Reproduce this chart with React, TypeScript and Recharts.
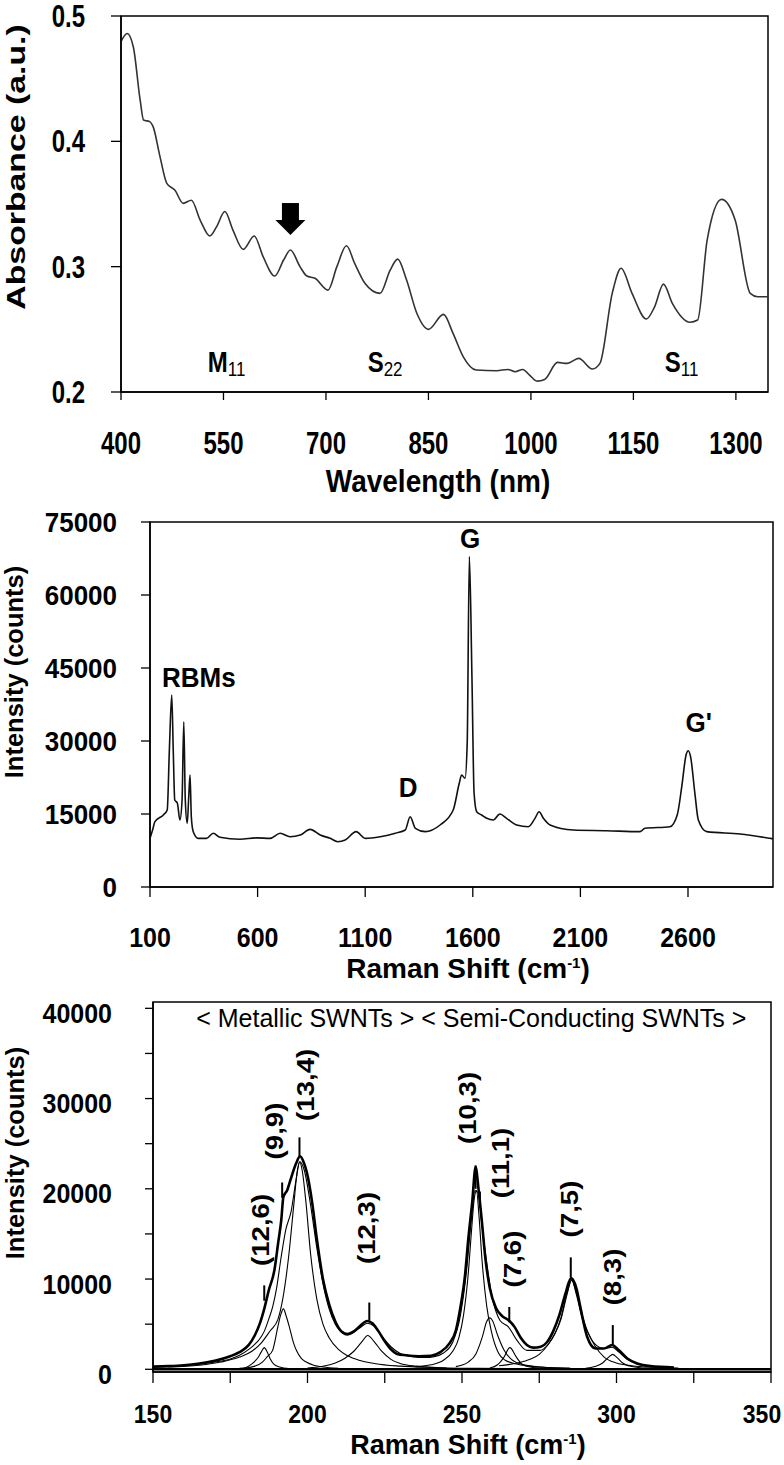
import React from "react";
import {
  LineChart, Line, XAxis, YAxis, ReferenceArea, ReferenceDot, ReferenceLine,
} from "recharts";

type Pt = [number, number];

// ---- panel 1: absorbance spectrum (wavelength nm, a.u.)
const uvSpectrum: Pt[] = [
  [400, 0.4795], [409, 0.486], [418, 0.4755], [428, 0.433], [433, 0.417], [442, 0.4157],
  [447, 0.4117], [457, 0.388], [467, 0.3665], [479, 0.361], [491, 0.3505], [503, 0.353],
  [516, 0.337], [530, 0.3245], [540, 0.332], [552, 0.344], [564, 0.329], [579, 0.3138],
  [595, 0.3245], [608, 0.308], [625, 0.2925], [638, 0.3053], [648, 0.3133], [662, 0.3],
  [672, 0.2925], [684, 0.2907], [703, 0.2813], [716, 0.3], [730, 0.3167], [742, 0.3026],
  [757, 0.2867], [779, 0.2787], [794, 0.2973], [805, 0.306], [818, 0.2893], [833, 0.2628],
  [850, 0.25], [872, 0.2619], [886, 0.2468], [901, 0.2281], [920, 0.2175], [950, 0.217],
  [966, 0.218], [977, 0.2162], [988, 0.218], [998, 0.2135], [1009, 0.2087], [1020, 0.21],
  [1039, 0.2236], [1053, 0.2228], [1070, 0.2268], [1090, 0.2183], [1101, 0.2228],
  [1119, 0.2787], [1132, 0.2987], [1148, 0.2787], [1169, 0.2582], [1181, 0.268],
  [1194, 0.2861], [1207, 0.2707], [1233, 0.2556], [1244, 0.2574], [1258, 0.3213],
  [1279, 0.3537], [1299, 0.337], [1321, 0.2787], [1332, 0.276], [1347, 0.276],
];
const uvTicksX = [400, 550, 700, 850, 1000, 1150, 1300];
const uvTicksY = [0.2, 0.3, 0.4, 0.5];
const uvBands = [
  { main: "M", sub: "11", x: 527 },
  { main: "S", sub: "22", x: 761 },
  { main: "S", sub: "11", x: 1196 },
];
const uvArrow = { x: 648, y: 0.338 };

// ---- panel 2: full Raman spectrum
const ramanSpectrum: Pt[] = [
  [100, 10000], [112, 11710], [123, 13420], [162, 14800], [180, 15820], [190, 28150],
  [201, 39460], [208, 28150], [215, 17880], [227, 17260], [239, 13770], [249, 17880],
  [257, 33970], [264, 17880], [273, 13090], [280, 18560], [286, 23020], [292, 14450],
  [301, 11370], [324, 10000], [363, 10000], [394, 11040], [425, 10210], [518, 9800],
  [596, 10100], [658, 10000], [705, 11040], [751, 10340], [798, 10680], [844, 11850],
  [891, 10680], [937, 10000], [972, 9310], [1007, 9650], [1058, 11370], [1100, 10000],
  [1170, 10340], [1240, 11040], [1286, 11710], [1309, 14450], [1333, 12060], [1379, 11370],
  [1448, 12740], [1509, 15820], [1537, 21310], [1548, 23020], [1564, 22340], [1574, 29530],
  [1584, 67880], [1596, 43220], [1606, 19250], [1618, 15470], [1641, 14800], [1665, 14110],
  [1695, 13770], [1726, 15000], [1757, 14110], [1804, 12740], [1858, 12390], [1889, 14110],
  [1908, 15470], [1928, 14110], [1959, 12740], [2067, 11710], [2222, 11570], [2377, 11370],
  [2400, 12060], [2516, 12390], [2550, 14800], [2571, 20610], [2591, 27130], [2601, 28010],
  [2612, 26780], [2632, 19250], [2648, 13770], [2687, 11370], [2842, 10890], [2981, 10000],
  [2995, 9900],
];
const ramanTicksX = [100, 600, 1100, 1600, 2100, 2600];
const ramanTicksY = [0, 15000, 30000, 45000, 60000, 75000];
const ramanBands = [
  { text: "RBMs", x: 156, y: 41100, anchor: "start" },
  { text: "D", x: 1299, y: 18500, anchor: "middle" },
  { text: "G", x: 1587, y: 69660, anchor: "middle" },
  { text: "G'", x: 2588, y: 31850, anchor: "start" },
];

// ---- panel 3: RBM region with Lorentzian components
const rbmMeasured: Pt[] = [
  [150, 300], [155, 350], [160, 450], [165, 650], [170, 950], [175, 1450], [178, 1900],
  [181, 2700], [183, 3800], [184.5, 5000], [186, 6700], [187.5, 8800], [189.3, 11000],
  [190.5, 14000], [191.5, 16500], [192.2, 19100], [193.5, 19900], [194.5, 21000],
  [196.3, 22800], [197.6, 23600], [198.7, 23000], [199.8, 21800], [201.5, 18500],
  [203, 14500], [205, 10000], [207, 7200], [209, 5300], [211, 4200], [213, 3900],
  [215, 4200], [217, 4800], [219.3, 5350], [221, 5100], [223, 4200], [225, 3100],
  [227, 2200], [229, 1700], [232, 1550], [236, 1450], [240, 1500], [243, 1900],
  [246, 2900], [248, 4300], [249.5, 6900], [251, 10500], [252, 14300], [253.3, 18500],
  [254.4, 22400], [255.4, 19800], [256.4, 16500], [257.5, 12500], [259, 9000],
  [261, 6800], [263, 5900], [265.2, 5400], [267, 4700], [269, 3500], [271, 2700],
  [273, 2400], [275.5, 2500], [277.5, 3000], [279.5, 4200], [281.5, 6000], [283.5, 8400],
  [285.3, 10100], [287, 9000], [288.3, 6900], [290.5, 3600], [293.2, 2300], [295.9, 2300],
  [298.6, 2700], [300.8, 2100], [303.5, 1200], [306.7, 650], [311, 350], [318.6, 200],
];
const rbmFitSum: Pt[] = [
  [150, 250], [160, 400], [170, 800], [175, 1150], [178, 1550], [181, 2200], [183, 2800],
  [184.4, 3300], [186, 4200], [187.7, 5800], [188.7, 6900], [190, 9000], [191.5, 12500],
  [193, 15500], [194.7, 17500], [196.3, 21000], [197.5, 23000], [199, 22000], [201, 18200],
  [203, 13500], [205, 9500], [207, 6700], [209, 5000], [210.7, 4200], [212.5, 3800],
  [214.5, 4000], [217, 4600], [219.3, 5100], [221.5, 4800], [224, 3700], [227, 2500],
  [230, 1750], [234, 1400], [238, 1300], [241, 1400], [244, 1800], [247, 3000],
  [249.5, 6000], [251.5, 11000], [253, 16500], [254.2, 19800], [255.3, 19500],
  [256.4, 16100], [258, 11800], [259.7, 8000], [261, 6400], [262.3, 5400], [265, 4700],
  [267.8, 3200], [271, 2100], [275.3, 2100], [278, 2800], [280, 3900], [282, 5700],
  [284, 8500], [285.5, 9900], [287, 8500], [289, 5900], [291, 3900], [293.7, 2600],
  [296, 2300], [298.6, 2450], [300.8, 1900], [303.5, 1100], [306.7, 600], [311, 330],
  [318.6, 200],
];
const comp126: Pt[] = [
  [178, 100], [180, 200], [182, 600], [184, 1300], [185, 1900], [186, 2400], [187, 1900],
  [188, 1100], [189, 600], [191, 250], [194, 80],
];
const comp99: Pt[] = [
  [180, 150], [183, 350], [185.4, 800], [187, 1400], [188.7, 2100], [190.4, 4700],
  [191.3, 6000], [192.2, 6700], [193.1, 5900], [194.2, 4600], [195.5, 2900], [196.4, 2100],
  [198, 1200], [199.6, 800], [202, 450], [205, 250], [210, 120],
];
const comp134: Pt[] = [
  [155, 250], [165, 450], [172, 800], [178, 1350], [182, 2000], [185, 2900], [188, 4300],
  [190.4, 5500], [192, 7800], [194, 12800], [195.5, 18000], [196.7, 22000], [197.5, 23000],
  [198.3, 22000], [199.5, 18500], [201, 12800], [203, 7800], [205, 5000], [207, 3500],
  [210, 2200], [213, 1500], [217, 980], [222, 620], [230, 350], [240, 200], [255, 100],
  [270, 60],
];
const comp123: Pt[] = [
  [200, 150], [205, 330], [209, 700], [212, 1200], [215, 2000], [217.5, 3000],
  [219.5, 3750], [221.5, 3100], [224, 2000], [227, 1100], [230, 650], [235, 350], [245, 150],
];
const comp103: Pt[] = [
  [235, 300], [240, 500], [244, 1000], [247, 2000], [249, 3500], [250.5, 6000],
  [252, 10500], [253, 15000], [254, 19000], [254.7, 19800], [255.5, 17000], [256.5, 12000],
  [258, 7000], [259.5, 4200], [261.8, 1800], [264, 1000], [268, 550], [275, 250], [285, 100],
];
const comp111: Pt[] = [
  [248, 300], [252, 800], [254.5, 1700], [256.5, 3500], [258, 5300], [259, 5700],
  [260, 5300], [261.5, 3800], [263.5, 2200], [266, 1100], [270, 500], [276, 250], [285, 100],
];
const comp76: Pt[] = [
  [259, 150], [261.5, 500], [263.5, 1300], [265.5, 2400], [267.5, 1400], [269.5, 550],
  [272, 250], [277, 100],
];
const comp75: Pt[] = [
  [262, 400], [268, 700], [272, 1100], [275, 1650], [278, 2800], [280, 3900], [282, 5500],
  [284, 8300], [285.5, 9900], [287, 8300], [289, 5500], [291, 3900], [293, 2600],
  [296, 1350], [300, 700], [305, 400], [312, 220], [320, 140],
];
const comp83: Pt[] = [
  [290, 100], [293, 300], [295.5, 700], [297.5, 1350], [298.8, 1650], [300, 1350],
  [302, 700], [305, 300], [310, 100],
];
const rbmComponents = [comp126, comp99, comp134, comp123, comp103, comp111, comp76, comp75, comp83];
const chiralLabels = ["(12,6)", "(9,9)", "(13,4)", "(12,3)", "(10,3)", "(11,1)", "(7,6)", "(7,5)", "(8,3)"];
const chiralLabelPos: Pt[] = [
  [184.7, 15440], [189.2, 26400], [199.3, 31520], [219, 15660], [251.8, 28960],
  [262.5, 22860], [266.4, 12220], [284.8, 17760], [298.8, 10230],
];
// marker ticks: [shift, from, to]
const chiralMarkers: [number, number, number][] = [
  [186, 7600, 9300], [191.8, 19000, 20700], [197.4, 23600, 25700], [220, 5400, 7400],
  [254.4, 20000, 22600], [255.8, 17900, 19700], [265.3, 5200, 6900], [285.2, 10200, 12400],
  [298.8, 2800, 4900],
];
const rbmTicksX = [150, 175, 200, 225, 250, 275, 300, 325, 350];
const rbmTicksY = [0, 2500, 5000, 7500, 10000, 12500, 15000, 17500, 20000, 22500, 25000,
  27500, 30000, 32500, 35000, 37500, 40000];

const FONT = "'Liberation Sans', Arial, Helvetica, sans-serif";
const toRows = (pts: Pt[]) => pts.map(([x, y]) => ({ x, y }));

function SText({ x, y, size, sy = 1, rot = 0, anchor = "middle", weight = 700, dy = "0.35em", children }: any) {
  return (
    <text
      transform={`translate(${x},${y}) scale(1,${sy}) rotate(${rot})`}
      textAnchor={anchor} dy={dy} fontFamily={FONT} fontSize={size}
      fontWeight={weight} fill="#000"
    >
      {children}
    </text>
  );
}

const xTick = (size: number, sy: number, fmt: (v: number) => string = String, maxX = 9999) =>
  (p: any) => (
    <SText x={Math.min(p.x, maxX)} y={p.y} size={size} sy={sy}>{fmt(p.payload.value)}</SText>
  );
const yTick = (size: number, sy: number, fmt: (v: number) => string = String, shift = 0) =>
  (p: any) => <SText x={p.x} y={p.y + shift} size={size} sy={sy} anchor="end">{fmt(p.payload.value)}</SText>;

const axisLine = { stroke: "#000", strokeWidth: 1.5 };
const tickLine = { stroke: "#000", strokeWidth: 1.3 };

function RamanTitle({ x, y, size = 28 }: { x: number; y: number; size?: number }) {
  return (
    <text x={x} y={y} textAnchor="middle" dy="0.35em" fontFamily={FONT} fontSize={size} fontWeight={700}>
      Raman Shift (cm<tspan dy={-10} fontSize={15}>-1</tspan><tspan dy={10}>)</tspan>
    </text>
  );
}

export default function App() {
  return (
    <div style={{ position: "absolute", left: 0, top: 0, width: 784, height: 1465, background: "#fff" }}>
      {/* Absorbance */}
      <div style={{ position: "absolute", left: 0, top: 0 }}>
        <LineChart width={784} height={500} margin={{ top: 16, right: 16, bottom: 78, left: 61 }}>
          <XAxis
            type="number" dataKey="x" domain={[400, 1347]} ticks={uvTicksX} allowDataOverflow
            height={30} axisLine={axisLine} tickLine={tickLine} tickSize={8} tickMargin={43}
            tick={xTick(24, 1.3)}
            label={{ content: () => <SText x={438} y={481} size={28} sy={1.15}>Wavelength (nm)</SText> }}
          />
          <YAxis
            type="number" domain={[0.2, 0.5]} ticks={uvTicksY} allowDataOverflow width={60}
            axisLine={axisLine} tickLine={tickLine} tickSize={10} tickMargin={26}
            tick={yTick(24, 1.3, (v) => v.toFixed(1))}
            label={{ content: () => <SText x={16} y={167} size={26} sy={1.3} rot={-90}>Absorbance (a.u.)</SText> }}
          />
          <ReferenceArea x1={400} x2={1347} y1={0.2} y2={0.5} fill="none" stroke="#000" strokeWidth={1.5} />
          <Line data={toRows(uvSpectrum)} dataKey="y" type="monotone" stroke="#333" strokeWidth={1.6}
            dot={false} activeDot={false} isAnimationActive={false} />
          {uvBands.map((b) => (
            <ReferenceDot key={b.main + b.sub + b.x} x={b.x} y={0.216} r={0}
              shape={(p: any) => (
                <text transform={`translate(${p.cx},${p.cy}) scale(1,1.2)`} fontFamily={FONT} fill="#000">
                  <tspan fontSize={24} fontWeight={700}>{b.main}</tspan>
                  <tspan fontSize={17} dy={3}>{b.sub}</tspan>
                </text>
              )}
            />
          ))}
          <ReferenceDot x={uvArrow.x} y={uvArrow.y} r={0}
            shape={(p: any) => (
              <g fill="#000">
                <rect x={p.cx - 8.5} y={p.cy - 16} width={17} height={18} />
                <polygon points={`${p.cx - 15},${p.cy + 1} ${p.cx + 15},${p.cy + 1} ${p.cx},${p.cy + 16}`} />
              </g>
            )}
          />
        </LineChart>
      </div>

      {/* Full Raman */}
      <div style={{ position: "absolute", left: 0, top: 500 }}>
        <LineChart width={784} height={490} margin={{ top: 22, right: 11, bottom: 73, left: 90 }}>
          <XAxis
            type="number" dataKey="x" domain={[100, 2995]} ticks={ramanTicksX} allowDataOverflow
            height={30} axisLine={axisLine} tickLine={tickLine} tickSize={10} tickMargin={40}
            tick={xTick(25, 1.1)}
            label={{ content: () => <RamanTitle x={468} y={468} /> }}
          />
          <YAxis
            type="number" domain={[0, 75000]} ticks={ramanTicksY} allowDataOverflow width={60}
            axisLine={axisLine} tickLine={tickLine} tickSize={9} tickMargin={24}
            tick={yTick(26, 1.05)}
            label={{ content: () => <SText x={14} y={172} size={25.5} rot={-90}>Intensity (counts)</SText> }}
          />
          <ReferenceArea x1={100} x2={2995} y1={0} y2={75000} fill="none" stroke="#000" strokeWidth={1.5} />
          <Line data={toRows(ramanSpectrum)} dataKey="y" type="monotone" stroke="#111" strokeWidth={1.6}
            dot={false} activeDot={false} isAnimationActive={false} />
          {ramanBands.map((b) => (
            <ReferenceDot key={b.text} x={b.x} y={b.y} r={0}
              shape={(p: any) => (
                <SText x={p.cx} y={p.cy} size={26} sy={1.08} anchor={b.anchor} dy={0}>{b.text}</SText>
              )}
            />
          ))}
        </LineChart>
      </div>

      {/* RBM region */}
      <div style={{ position: "absolute", left: 0, top: 990 }}>
        <LineChart width={784} height={475} margin={{ top: 12, right: 13, bottom: 63, left: 93 }}>
          <XAxis
            type="number" dataKey="x" domain={[150, 350]} ticks={rbmTicksX} allowDataOverflow
            height={30} axisLine={axisLine} tickLine={tickLine} tickSize={11} tickMargin={31}
            tick={xTick(23, 1.15, (v) => (v % 50 === 0 ? String(v) : ""), 762)}
            label={{ content: () => <RamanTitle x={468} y={455} size={27} /> }}
          />
          <YAxis
            type="number" domain={[-300, 40700]} ticks={rbmTicksY} allowDataOverflow width={60}
            axisLine={axisLine} tickLine={tickLine} tickSize={8} tickMargin={33}
            tick={yTick(25, 1.1, (v) => (v % 10000 === 0 ? String(v) : ""), 5)}
            label={{ content: () => <SText x={15} y={163} size={25.5} rot={-90}>Intensity (counts)</SText> }}
          />
          <ReferenceArea x1={150} x2={350} y1={-300} y2={40700} fill="none" stroke="#000" strokeWidth={1.5} />
          <ReferenceLine y={0} stroke="#000" strokeWidth={2.5} />
          {rbmComponents.map((c, i) => (
            <Line key={chiralLabels[i]} data={toRows(c)} dataKey="y" type="monotone" stroke="#000"
              strokeWidth={1.1} dot={false} activeDot={false} isAnimationActive={false} />
          ))}
          <Line data={toRows(rbmFitSum)} dataKey="y" type="monotone" stroke="#000" strokeWidth={1.1}
            dot={false} activeDot={false} isAnimationActive={false} />
          <Line data={toRows(rbmMeasured)} dataKey="y" type="monotone" stroke="#000" strokeWidth={2.6}
            dot={false} activeDot={false} isAnimationActive={false} />
          {chiralMarkers.map(([x, y1, y2]) => (
            <ReferenceLine key={x} segment={[{ x, y: y1 }, { x, y: y2 }]} stroke="#000" strokeWidth={2} />
          ))}
          {chiralLabels.map((t, i) => (
            <ReferenceDot key={t} x={chiralLabelPos[i][0]} y={chiralLabelPos[i][1]} r={0}
              shape={(p: any) => <SText x={p.cx} y={p.cy} size={24} sy={1.15} rot={-90}>{t}</SText>}
            />
          ))}
          <ReferenceDot x={253} y={38900} r={0}
            shape={(p: any) => (
              <SText x={p.cx} y={p.cy} size={25} weight={400}>
                {"< Metallic SWNTs > < Semi-Conducting SWNTs >"}
              </SText>
            )}
          />
        </LineChart>
      </div>
    </div>
  );
}
